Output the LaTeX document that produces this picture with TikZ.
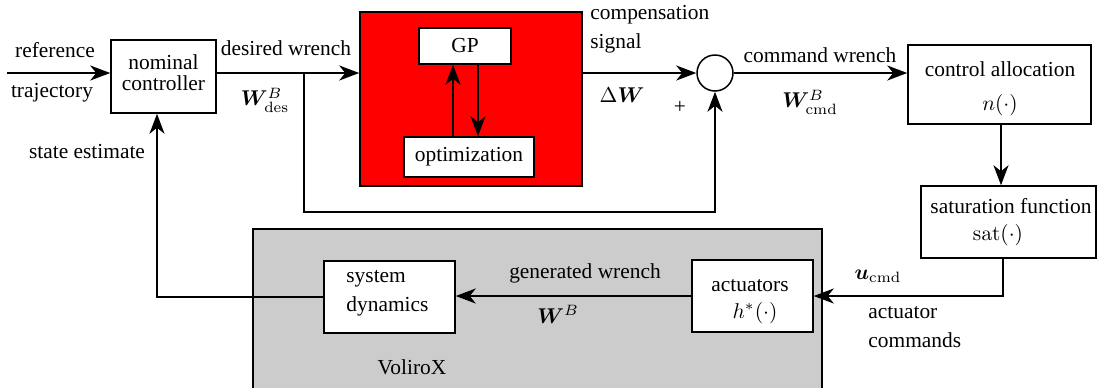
\RequirePackage{fix-cm}
\documentclass[tikz,border=0pt]{standalone}
\usepackage{amsmath}
\usepackage{bm}
\usepackage[no-math]{fontspec}
\setmainfont{Liberation Serif}
\usetikzlibrary{arrows.meta,fit}
\definecolor{gpred}{HTML}{FF0000}
\definecolor{plantgray}{HTML}{CCCCCC}
\begin{document}
\begin{tikzpicture}[x=0.5pt,y=-0.5pt,
  font=\fontsize{10.7}{12.5}\selectfont,
  blk/.style={draw, line width=0.75pt, fill=white, inner sep=0pt, align=center},
  wire/.style={line width=1pt},
  arr/.style={wire, -{Stealth[length=10pt,width=7.5pt,inset=3pt]}},
  lbl/.style={inner sep=0pt, anchor=center},
  lbll/.style={inner sep=0pt, anchor=west}]
\clip (0,0) rectangle (1098,387);

% plant block (VoliroX) and the GP compensation block
\fill[plantgray, draw=black, line width=0.75pt] (253,229) rectangle (822,400);
\node[draw, line width=0.75pt, fill=gpred, inner sep=0pt, fit={(360,12)(582,186)}] (red) {};

% blocks
\node[blk, fit={(111,40)(216,113)}] (nc) {};
\node[lbl, align=center] at (163.5,73) {nominal\\[-2pt]controller};
\node[blk, fit={(419,28)(511,64)}] (gp) {};
\node[lbl] at (465,46) {GP};
\node[blk, fit={(404,137)(534,177)}] (opt) {};
\node[lbl] at (469,157) {optimization};
\node[draw, circle, line width=0.75pt, minimum size=18pt, inner sep=0pt] (sum) at (715,73) {};
\node[blk, fit={(908,45)(1091,124)}] (ca) {};
\node[lbl] at (1000,69) {control allocation};
\node[lbl] at (1000,105) {$n(\cdot)$};
\node[blk, fit={(921,186)(1096,258)}] (sat) {};
\node[lbl] at (1011,206) {saturation function};
\node[lbl] at (998,235) {$\mathrm{sat}(\cdot)$};
\node[blk, fit={(692,260)(813,332)}] (act) {};
\node[lbl] at (750,286) {actuators};
\node[lbl] at (755,313) {$h^{*}(\cdot)$};
\node[blk, fit={(324,261)(455,333)}] (sys) {};
\node[lbll] at (346,279) {system};
\node[lbll] at (346,306) {dynamics};

% helper points
\coordinate (in) at (7,73);
\coordinate (split) at (304,73);
\coordinate (fb) at (304,212);
\coordinate (se) at (157,297);
\coordinate (up) at (453,0);
\coordinate (dn) at (478,0);
\coordinate (drop) at (1003,0);

% connectors
\draw[arr] (in) -- (in -| nc.west);
\draw[arr] (split -| nc.east) -- (split -| red.west);
\draw[arr] (red.east |- sum) -- (sum.west);
\draw[arr] (sum.east) -- (sum -| ca.west);
\draw[arr] (split) -- (fb) -| (sum.south);
\draw[arr] (opt.north -| up) -- (gp.south -| up);
\draw[arr] (gp.south -| dn) -- (opt.north -| dn);
\draw[arr] (ca.south -| 1001,0) -- (sat.north -| 1001,0);
\draw[arr] (sat.south -| drop) |- (act.east);
\draw[arr] (act.west) -- (act.west -| sys.east);
\draw[arr] (sys.west) -- (se) -- (se |- nc.south);

% signal labels
\node[lbl] at (55,50) {reference};
\node[lbl] at (52,93) {trajectory};
\node[lbl] at (286,48) {desired wrench};
\node[lbl] at (265,100) {$\bm{W}^{B}_{\mathrm{des}}$};
\node[lbll] at (590,15) {compensation};
\node[lbll] at (590,43) {signal};
\node[lbl] at (622,95) {$\Delta\bm{W}$};
\node[lbl] at (680,107) {+};
\node[lbl] at (820,55) {command wrench};
\node[lbl] at (810,102) {$\bm{W}^{B}_{\mathrm{cmd}}$};
\node[lbl] at (878,276) {$\bm{u}_{\mathrm{cmd}}$};
\node[lbll] at (868,313) {actuator};
\node[lbll] at (868,340) {commands};
\node[lbl] at (585,273) {generated wrench};
\node[lbl] at (558,314) {$\bm{W}^{B}$};
\node[lbl] at (412,367) {VoliroX};
\node[lbl] at (87,152) {state estimate};
\end{tikzpicture}
\end{document}
